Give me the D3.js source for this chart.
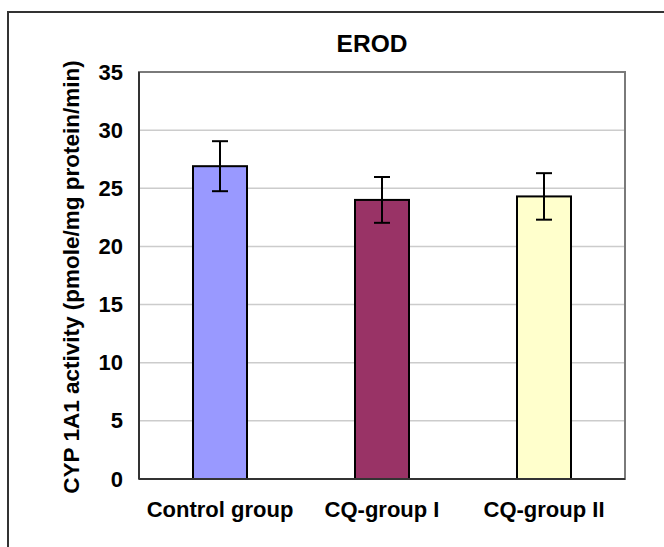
<!DOCTYPE html>
<html>
<head>
<meta charset="utf-8">
<script src="https://cdn.jsdelivr.net/npm/d3@7"></script>
<style>
  html, body { margin: 0; padding: 0; background: #ffffff; }
  svg { display: block; font-family: Arial, "Liberation Sans", sans-serif; }
</style>
</head>
<body>
<svg id="chart" width="664" height="547"></svg>
<script>
// EROD activity per group (mean and error)
const categories = ["Control group", "CQ-group I", "CQ-group II"];
const means = [26.9, 24.0, 24.3];
const errors = [2.15, 1.97, 2.0];
const barColors = ["#9999FF", "#993366", "#FFFFCC"];
const yTicks = [0, 5, 10, 15, 20, 25, 30, 35];
const titleText = "EROD";
const yTitleText = "CYP 1A1 activity (pmole/mg protein/min)";

const svg = d3.select("#chart");
const W = 664, H = 547;

const plot = { left: 139, right: 625, top: 72, bottom: 479 };

// outer chart frame (runs past the right and bottom edges)
svg.append("rect")
  .attr("x", 8).attr("y", 12)
  .attr("width", W + 40).attr("height", H + 40)
  .attr("fill", "#ffffff")
  .attr("stroke", "#333333").attr("stroke-width", 2);

const x = d3.scaleBand()
  .domain(categories)
  .range([plot.left, plot.right])
  .paddingInner(2 / 3).paddingOuter(1 / 3);

const y = d3.scaleLinear().domain([0, 35]).range([plot.bottom, plot.top]);

// plot area background
svg.append("rect")
  .attr("x", plot.left).attr("y", plot.top)
  .attr("width", plot.right - plot.left).attr("height", plot.bottom - plot.top)
  .attr("fill", "#ffffff");

// gridlines
svg.append("g").selectAll("line")
  .data(yTicks.filter(t => t > 0 && t < 35))
  .join("line")
  .attr("x1", plot.left).attr("x2", plot.right)
  .attr("y1", d => y(d)).attr("y2", d => y(d))
  .attr("stroke", "#cccccc").attr("stroke-width", 1.5);

// plot area border
svg.append("rect")
  .attr("x", plot.left).attr("y", plot.top)
  .attr("width", plot.right - plot.left).attr("height", plot.bottom - plot.top)
  .attr("fill", "none")
  .attr("stroke", "#7a7a7a").attr("stroke-width", 2);

// bars
svg.append("g").selectAll("rect")
  .data(categories)
  .join("rect")
  .attr("x", d => x(d))
  .attr("y", (d, i) => y(means[i]))
  .attr("width", x.bandwidth())
  .attr("height", (d, i) => y(0) - y(means[i]))
  .attr("fill", (d, i) => barColors[i])
  .attr("stroke", "#000000").attr("stroke-width", 2);

// error bars
const capHalf = 8;
const eb = svg.append("g").attr("stroke", "#000000").attr("stroke-width", 2);
categories.forEach((c, i) => {
  const cx = x(c) + x.bandwidth() / 2;
  const hi = y(means[i] + errors[i]);
  const lo = y(means[i] - errors[i]);
  eb.append("line").attr("x1", cx).attr("x2", cx).attr("y1", hi).attr("y2", lo);
  eb.append("line").attr("x1", cx - capHalf).attr("x2", cx + capHalf).attr("y1", hi).attr("y2", hi);
  eb.append("line").attr("x1", cx - capHalf).attr("x2", cx + capHalf).attr("y1", lo).attr("y2", lo);
});

// axes lines
svg.append("line")
  .attr("x1", plot.left).attr("x2", plot.left)
  .attr("y1", plot.top).attr("y2", plot.bottom)
  .attr("stroke", "#333333").attr("stroke-width", 2);
svg.append("line")
  .attr("x1", plot.left).attr("x2", plot.right)
  .attr("y1", plot.bottom).attr("y2", plot.bottom)
  .attr("stroke", "#333333").attr("stroke-width", 2);

// y tick labels
const yAxis = d3.axisLeft(y).tickValues(yTicks).tickSize(0).tickPadding(16);
const gy = svg.append("g").attr("transform", `translate(${plot.left},0)`).call(yAxis);
gy.select(".domain").remove();
gy.selectAll("text")
  .attr("font-size", 22).attr("font-weight", "bold").attr("fill", "#000")
  .attr("font-family", "Arial, 'Liberation Sans', sans-serif");

// x category labels
const xAxis = d3.axisBottom(x).tickSize(0).tickPadding(22);
const gx = svg.append("g").attr("transform", `translate(0,${plot.bottom})`).call(xAxis);
gx.select(".domain").remove();
gx.selectAll("text")
  .attr("font-size", 22).attr("font-weight", "bold").attr("fill", "#000")
  .attr("font-family", "Arial, 'Liberation Sans', sans-serif");

// chart title
svg.append("text")
  .attr("x", 372).attr("y", 52)
  .attr("text-anchor", "middle")
  .attr("font-size", 24.5).attr("font-weight", "bold")
  .text(titleText);

// y axis title
svg.append("text")
  .attr("transform", `translate(79,277) rotate(-90)`)
  .attr("text-anchor", "middle")
  .attr("font-size", 22.5).attr("font-weight", "bold")
  .text(yTitleText);
</script>
</body>
</html>
